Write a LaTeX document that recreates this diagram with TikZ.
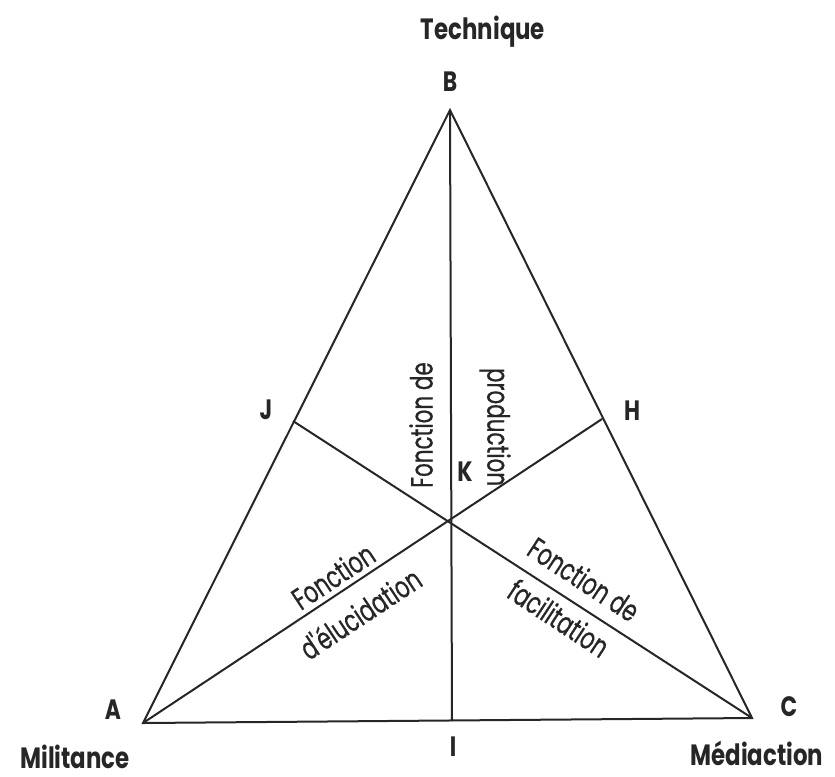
\documentclass[tikz,border=0pt]{standalone}
\usepackage{fontspec}
\setmainfont{Poppins}[FakeStretch=0.78]
\newfontfamily\fnfont{Poppins}[FakeStretch=0.7,FakeBold=0.6]
\definecolor{ink}{HTML}{262626}
\begin{document}
\begin{tikzpicture}[x=0.75pt,y=-0.75pt,
  edge/.style={draw=ink,line width=1.5pt,line join=miter},
  vlabel/.style={text=ink,font=\fontsize{22}{24}\selectfont\bfseries,inner sep=0pt},
  corner/.style={text=ink,font=\fontsize{21}{24}\selectfont\bfseries,inner sep=0pt},
  flabel/.style={text=ink,font=\fnfont\fontsize{23}{25}\selectfont,inner sep=0pt}]
\useasboundingbox (0,0) rectangle (835,776);
\coordinate (A) at (143,723);
\coordinate (B) at (450,110);
\coordinate (C) at (752,718);
\coordinate (I) at (452,721);
\coordinate (J) at (293,421);
\coordinate (H) at (602,419);
\coordinate (K) at (450,520);
\draw[edge] (A) -- (B) -- (C) -- cycle;
\draw[edge] (B) -- (I);
\draw[edge] (J) -- (C);
\draw[edge] (H) -- (A);
% vertex labels
\node[vlabel] (tech) at (483,32) {Technique};
\node[corner] (lB) at (450,82) {B};
\node[corner] (lJ) at (266,410) {J};
\node[corner] (lH) at (632,411) {H};
\node[corner] (lK) at (465,472) {K};
\node[corner] (lA) at (113,710) {A};
\node[corner] (lC) at (789,707) {C};
\node[corner] (lI) at (453,747) {I};
\node[vlabel] (mil) at (75,757) {Militance};
\node[vlabel] (med) at (757,753) {Médiaction};
% function labels
\node[flabel,rotate=90] (f1) at (421,425) {Fonction de};
\node[flabel,rotate=-90] (f2) at (495,427) {production};
\node[flabel,rotate=33.5] (f3) at (333,576) {Fonction};
\node[flabel,rotate=33.5] (f4) at (360,613) {d'élucidation};
\node[flabel,rotate=-33.3] (f5) at (584,579) {Fonction de};
\node[flabel,rotate=-33.3] (f6) at (559,618) {facilitation};
\end{tikzpicture}
\end{document}
